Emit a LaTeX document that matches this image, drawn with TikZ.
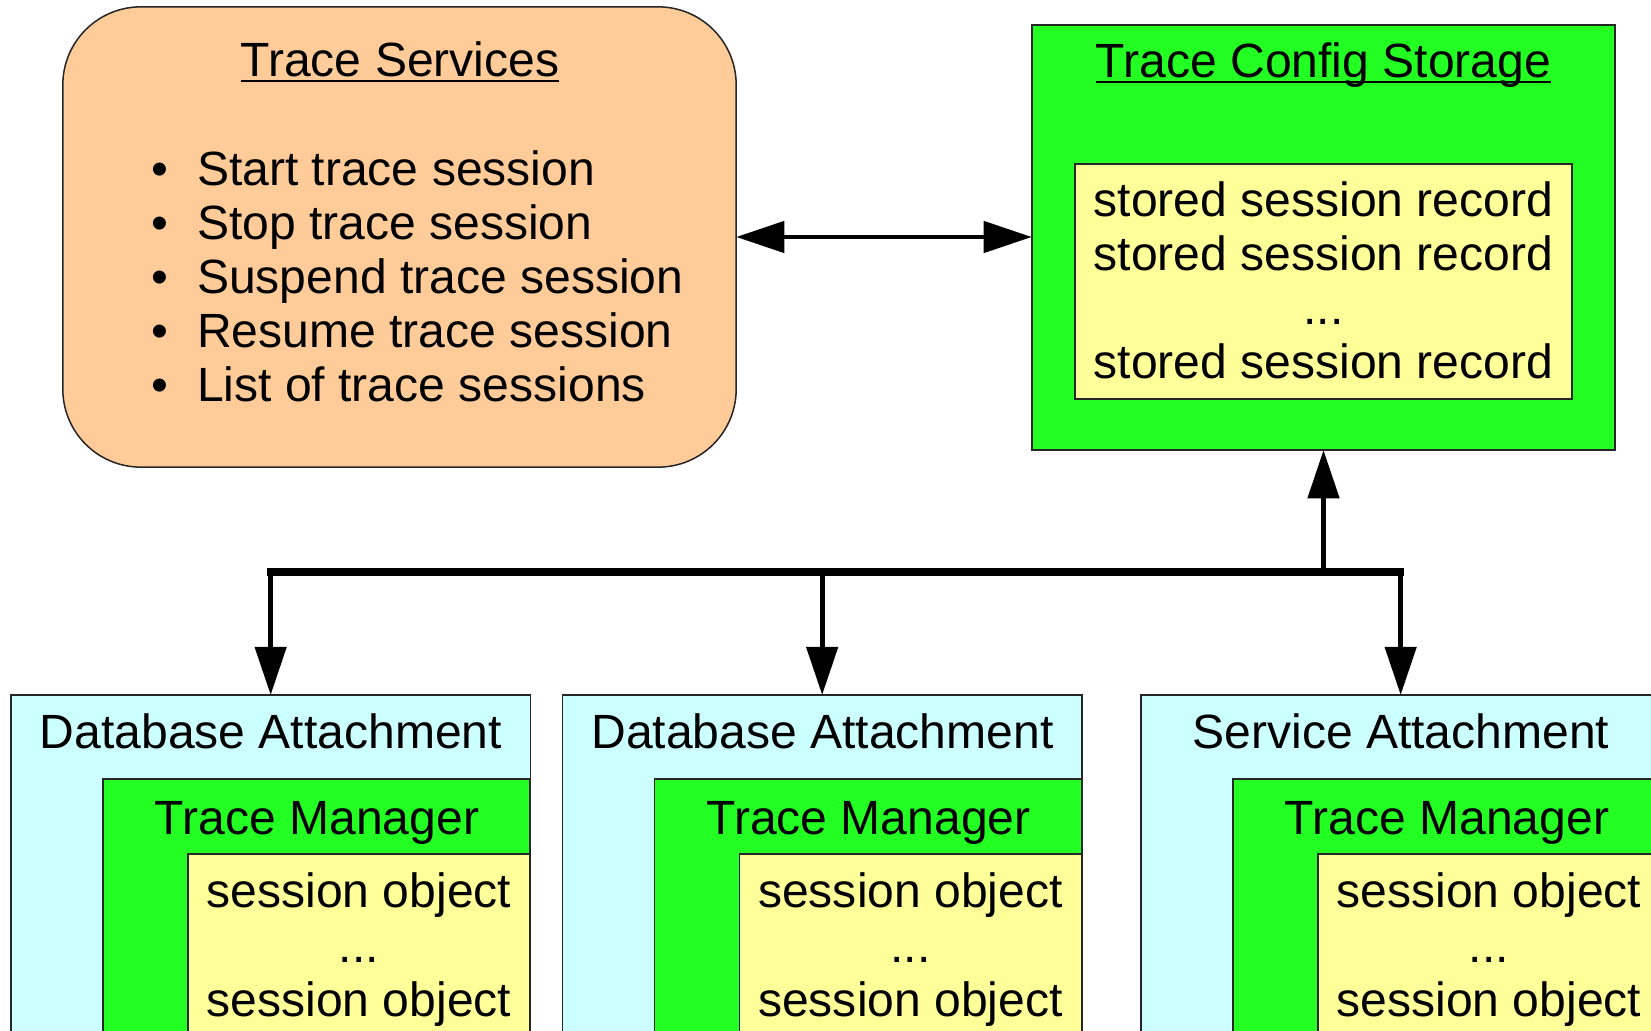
\documentclass[tikz,border=0pt]{standalone}
\usepackage{fontspec}
\setmainfont{Liberation Sans}
\usetikzlibrary{arrows.meta}

\definecolor{svcorange}{HTML}{FFCC99}
\definecolor{mgrgreen}{HTML}{23FF23}
\definecolor{objyellow}{HTML}{FFFF99}
\definecolor{attblue}{HTML}{CCFFFF}

\begin{document}
\begin{tikzpicture}[x=0.01cm, y=-0.01cm,
  every node/.style={inner sep=0pt, outer sep=0pt},
  txt/.style={font=\fontsize{13.67}{15.4}\selectfont},
  frame/.style={rectangle, draw=black!85, line width=0.43pt},
  uline/.style={line width=0.65pt},
  tip/.tip={Triangle[length=13.7pt, width=8.8pt]},
  link/.style={line width=1.4pt, -tip},
  bus/.style={line width=2pt, line cap=rect},
  ]
\path[use as bounding box, clip] (0,0) rectangle (1651,1031);

% ---- Trace services ----
\node[frame, fill=svcorange, rounded corners=0.78cm,
      minimum width=6.73cm, minimum height=4.60cm] (ts) at (399.5,237) {};
\node[txt, anchor=base] (tstitle) at (400,77) {Trace Services};
\draw[uline] ([yshift=-1.2pt]tstitle.base west) -- ([yshift=-1.2pt]tstitle.base east);
\foreach \t [count=\i] in {Start trace session, Stop trace session,
    Suspend trace session, Resume trace session, List of trace sessions} {
  \node[txt, anchor=base] (tsb\i) at (160,{132+54*\i}) {\textbullet};
  \node[txt, anchor=base west] (tsl\i) at (197,{132+54*\i}) {\t};
}

% ---- Trace config storage ----
\node[frame, fill=mgrgreen, minimum width=5.83cm, minimum height=4.25cm] (tcs) at (1323.5,237.5) {};
\node[txt, anchor=base] (tcstitle) at (1323.5,78) {Trace Config Storage};
\draw[uline] ([yshift=-1.2pt]tcstitle.base west) -- ([yshift=-1.2pt]tcstitle.base east);
\node[frame, fill=objyellow, minimum width=4.97cm, minimum height=2.35cm] (rec) at (1323.5,281.5) {};
\node[txt, anchor=base] (recl1) at (1323.5,217) {stored session record};
\node[txt, anchor=base] (recl2) at (1323.5,271) {stored session record};
\node[txt, anchor=base] (recl3) at (1323.5,325) {...};
\node[txt, anchor=base] (recl4) at (1323.5,379) {stored session record};

% ---- Attachments with their trace managers ----
\foreach \dx/\lbl [count=\k] in {0/Database Attachment, 551.5/Database Attachment,
    1130/Service Attachment} {
  \node[frame, fill=attblue, anchor=north west, minimum width=5.19cm, minimum height=4cm]
    (att\k) at ({11+\dx},695) {};
  \node[txt, anchor=base] (attl\k) at ({271+\dx},749) {\lbl};
  \node[frame, fill=mgrgreen, anchor=north west, minimum width=4.27cm, minimum height=3cm]
    (tm\k) at ({103+\dx},779) {};
  \node[txt, anchor=base] (tml\k) at ({317+\dx},835) {Trace Manager};
  \node[frame, fill=objyellow, anchor=north west, minimum width=3.42cm, minimum height=2.5cm]
    (so\k) at ({188+\dx},854) {};
  \node[txt, anchor=base] (soa\k) at ({359+\dx},908) {session object};
  \node[txt, anchor=base] (sob\k) at ({359+\dx},962) {.{}.{}.};
  \node[txt, anchor=base] (soc\k) at ({359+\dx},1016) {session object};
}

% ---- Connectors ----
\draw[line width=1.4pt, tip-tip] (ts.east) -- (ts.east -| tcs.west);
\coordinate (busL) at (att1.north |- 0,572);
\coordinate (busR) at (att3.north |- 0,572);
\draw[bus] (busL) -- (busR);
\draw[link] (busL) -- (att1.north);
\draw[link] (att2.north |- busL) -- (att2.north);
\draw[link] (busR) -- (att3.north);
\draw[link] (tcs.south |- busL) -- (tcs.south);
\end{tikzpicture}
\end{document}
